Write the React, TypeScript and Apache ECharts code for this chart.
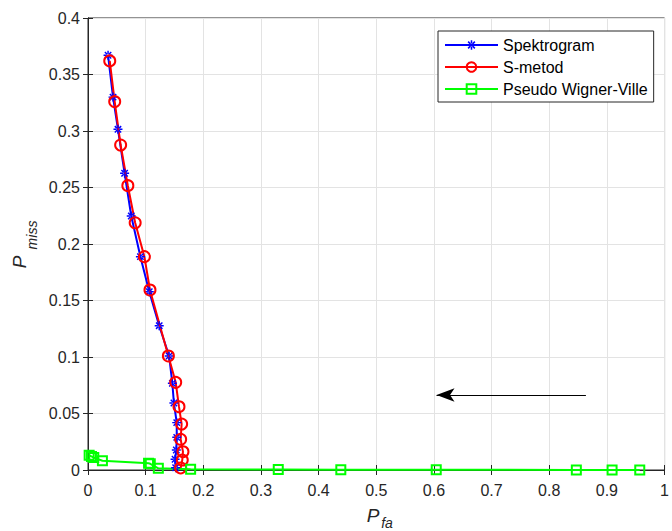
import React, { useEffect, useRef } from "react";
import * as echarts from "echarts";

const spektrogram: number[][] = [
  [0.0348, 0.367], [0.0434, 0.33], [0.052, 0.3015], [0.0635, 0.2626], [0.075, 0.2248],
  [0.0909, 0.1888], [0.1063, 0.1578], [0.1235, 0.1277], [0.1407, 0.1009], [0.1463, 0.0767],
  [0.149, 0.0593], [0.1539, 0.0419], [0.1539, 0.0289], [0.1532, 0.0177], [0.151, 0.0095],
  [0.152, 0.002],
];
const smetod: number[][] = [
  [0.0377, 0.362], [0.0463, 0.326], [0.0566, 0.2876], [0.0691, 0.2516], [0.0818, 0.2188],
  [0.0978, 0.1888], [0.1075, 0.1593], [0.1394, 0.1009], [0.1521, 0.0776], [0.1578, 0.056],
  [0.1624, 0.0407], [0.1607, 0.0272], [0.1647, 0.0162], [0.1635, 0.0088], [0.1607, 0.0018],
];
const pwv: number[][] = [
  [0.002, 0.013], [0.006, 0.012], [0.01, 0.011], [0.025, 0.0082], [0.105, 0.006],
  [0.108, 0.0055], [0.122, 0.0015], [0.178, 0.0006], [0.33, 0.0004], [0.4385, 0.0003],
  [0.604, 0.0002], [0.847, 0.0001], [0.909, 0.0001], [0.957, 0.0],
];
const seriesNames = ["Spektrogram", "S-metod", "Pseudo Wigner-Ville"];
const arrowStart = [0.8636, 0.0664];
const arrowEnd = [0.6045, 0.0664];

const asterisk =
  "path://M-0.8,-5L0.8,-5L0.8,5L-0.8,5Z M-5,-0.8L5,-0.8L5,0.8L-5,0.8Z M2.97,4.1L4.1,2.97L-2.97,-4.1L-4.1,-2.97Z M4.1,-2.97L2.97,-4.1L-4.1,2.97L-2.97,4.1Z";

const FONT = "Liberation Sans, Arial, sans-serif";
const AX = "#262626";

export default function App() {
  const ref = useRef<HTMLDivElement>(null);
  useEffect(() => {
    const chart = echarts.init(ref.current!, null, { renderer: "svg" });
    const axisCommon = {
      type: "value" as const,
      axisLine: { show: true, lineStyle: { color: AX, width: 1 } },
      axisTick: { show: true, inside: true, length: 5, lineStyle: { color: AX } },
    };
    chart.setOption({
      animation: false,
      backgroundColor: "#fff",
      grid: { left: 88, right: 5, top: 18, bottom: 61, show: true, borderColor: AX, borderWidth: 1 },
      xAxis: [
        {
          ...axisCommon, min: 0, max: 1, interval: 0.1,
          axisLabel: { color: AX, fontSize: 16, fontFamily: FONT, margin: 12 },
          splitLine: { show: true, lineStyle: { color: "#e3e3e3", width: 1 } },
        },
        {
          ...axisCommon, position: "top", min: 0, max: 1, interval: 0.1,
          axisLabel: { show: false }, splitLine: { show: false },
        },
      ],
      yAxis: [
        {
          ...axisCommon, min: 0, max: 0.4, interval: 0.05,
          axisLabel: { color: AX, fontSize: 16, fontFamily: FONT, margin: 8 },
          splitLine: { show: true, lineStyle: { color: "#e3e3e3", width: 1 } },
        },
        {
          ...axisCommon, position: "right", min: 0, max: 0.4, interval: 0.05,
          axisLabel: { show: false }, splitLine: { show: false },
        },
      ],
      legend: {
        orient: "vertical",
        left: 438,
        top: 31,
        data: seriesNames,
        itemWidth: 53,
        itemHeight: 12,
        itemGap: 6,
        padding: [6, 6, 5, 6],
        borderColor: AX,
        borderWidth: 1,
        backgroundColor: "#fff",
        textStyle: { fontSize: 16, fontFamily: FONT, color: "#000" },
      },
      series: [
        {
          name: seriesNames[0], type: "line", data: spektrogram,
          symbol: asterisk, symbolSize: 9, showAllSymbol: true,
          lineStyle: { color: "#0000ff", width: 2 },
          itemStyle: { color: "#0000ff" },
        },
        {
          name: seriesNames[1], type: "line", data: smetod,
          symbol: "circle", symbolSize: 11, showAllSymbol: true,
          lineStyle: { color: "#ff0000", width: 2 },
          itemStyle: { color: "rgba(255,255,255,0)", borderColor: "#ff0000", borderWidth: 2 },
        },
        {
          name: seriesNames[2], type: "line", data: pwv,
          symbol: "rect", symbolSize: 9, showAllSymbol: true,
          lineStyle: { color: "#00ff00", width: 2 },
          itemStyle: { color: "rgba(255,255,255,0)", borderColor: "#00ff00", borderWidth: 2 },
        },
        {
          name: "arrow", type: "line", data: [],
          markLine: {
            silent: true, animation: false,
            symbol: ["none", "arrow"], symbolSize: [10, 18],
            label: { show: false },
            lineStyle: { color: "#000", width: 1, type: "solid" },
            data: [[{ coord: arrowStart }, { coord: arrowEnd }]],
          },
        },
      ],
      graphic: [
        { type: "text", x: 373, y: 515, style: { text: "P", font: `italic 19px ${FONT}`, fill: AX, align: "center", verticalAlign: "middle" } },
        { type: "text", x: 387, y: 523, style: { text: "fa", font: `italic 14px ${FONT}`, fill: AX, align: "center", verticalAlign: "middle" } },
        { type: "text", x: 19, y: 262, rotation: Math.PI / 2, style: { text: "P", font: `italic 19px ${FONT}`, fill: AX, align: "center", verticalAlign: "middle" } },
        { type: "text", x: 32, y: 235, rotation: Math.PI / 2, style: { text: "miss", font: `italic 14px ${FONT}`, fill: AX, align: "center", verticalAlign: "middle" } },
      ],
    });
    return () => chart.dispose();
  }, []);
  return <div ref={ref} style={{ position: "fixed", left: 0, top: 0, width: 672, height: 531 }} />;
}
